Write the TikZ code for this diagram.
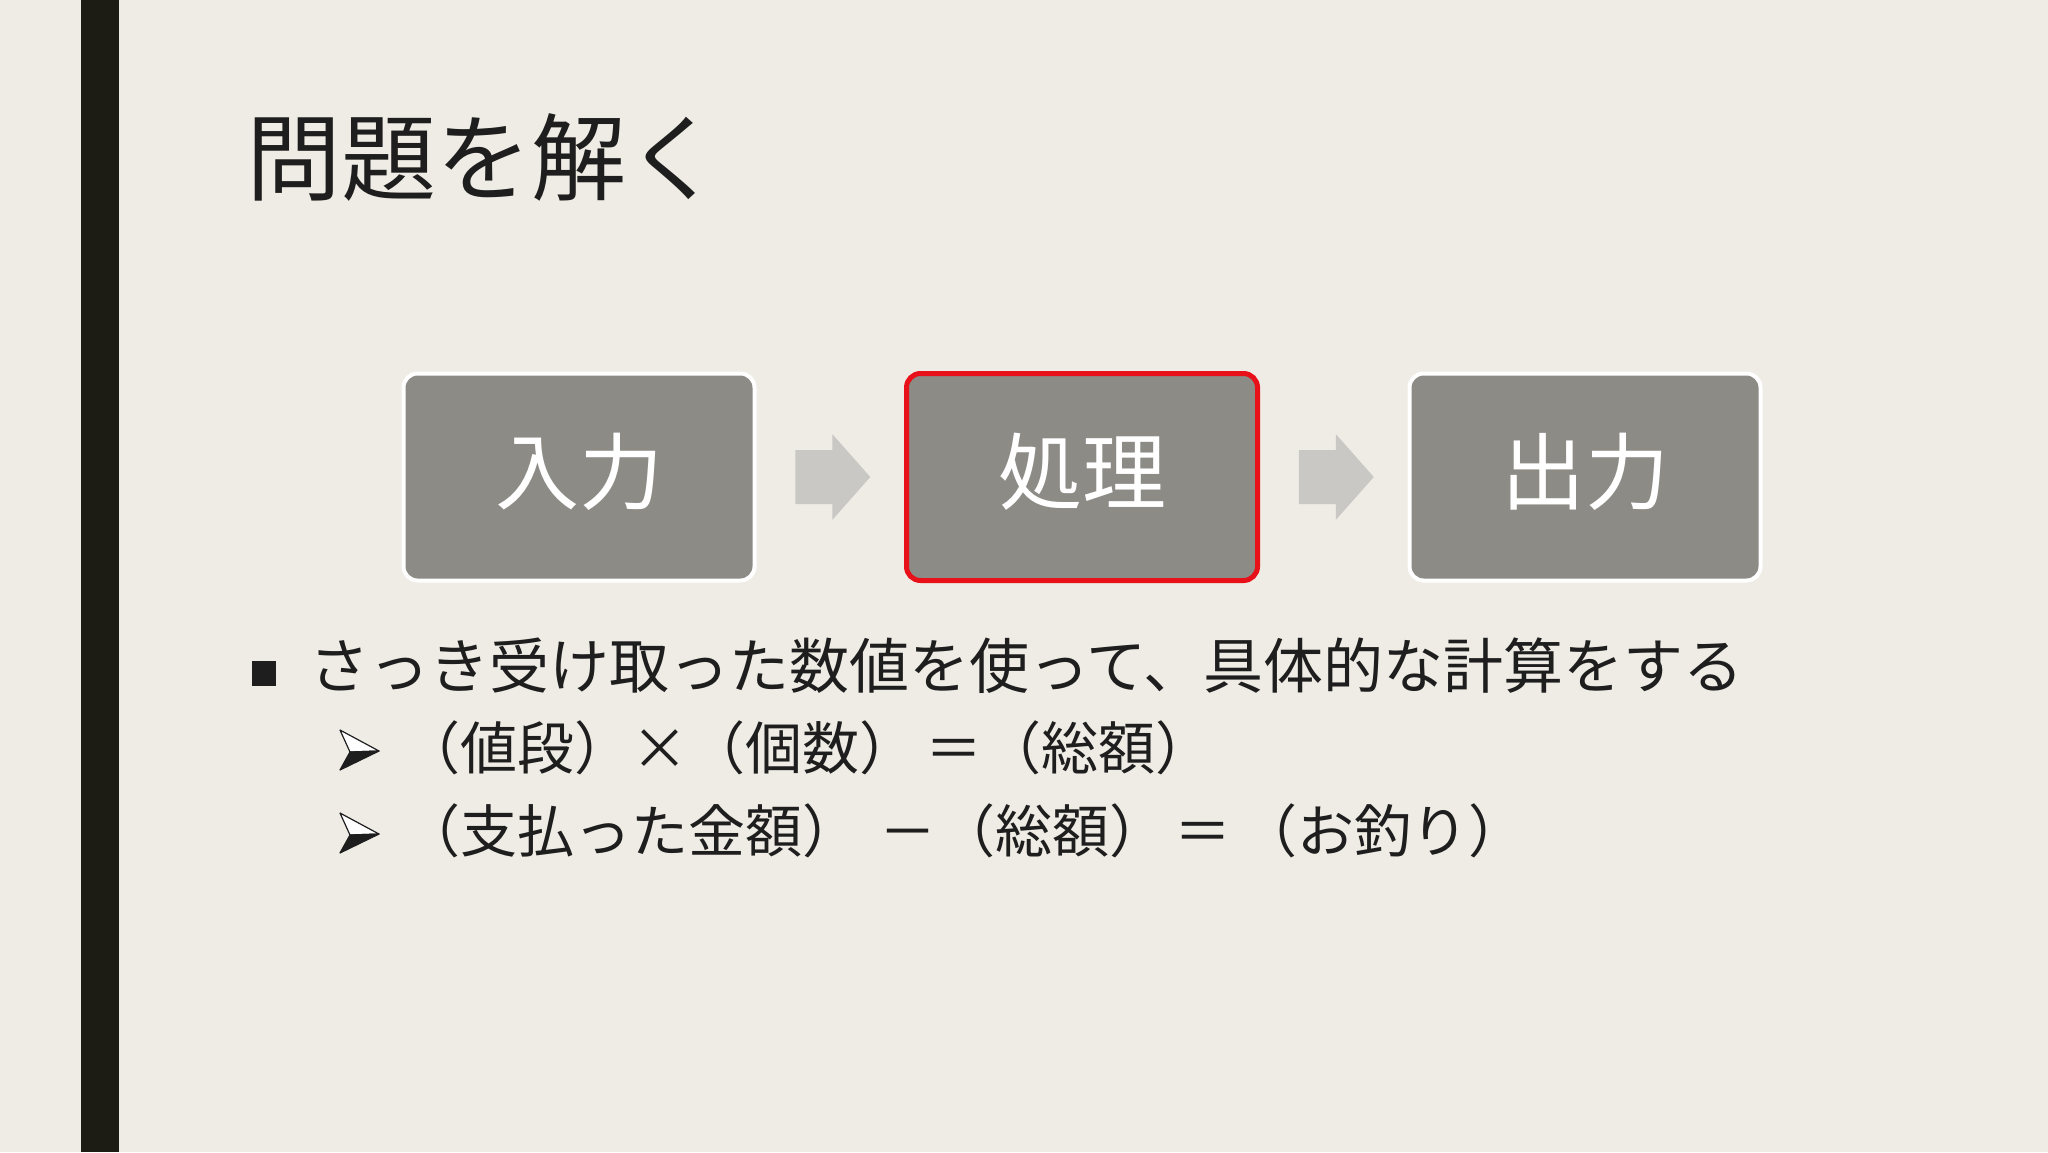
\documentclass[tikz,border=0pt]{standalone}
\usepackage{fontspec}
\setmainfont{Noto Sans CJK JP}
\usetikzlibrary{positioning,calc}
\definecolor{bgcol}{HTML}{EFECE5}
\definecolor{barcol}{HTML}{1C1C14}
\definecolor{boxcol}{HTML}{8C8B86}
\definecolor{redcol}{HTML}{E8111A}
\definecolor{arrcol}{HTML}{C9C8C4}
\definecolor{txtcol}{HTML}{1E1E1E}

\begin{document}
\begin{tikzpicture}[x=1pt, y=-1pt, node distance=147.5pt,
  step box/.style={rounded corners=14pt,draw=white,line width=4pt,fill=boxcol,minimum width=351pt,minimum height=207pt,inner sep=0pt,text=white,font=\fontsize{84}{84}\selectfont},
  hot box/.style={step box,draw=redcol,line width=5pt},
  flow arrow/.style={fill=arrcol,draw=none},
  item/.style={anchor=west,inner sep=0pt,text=txtcol,font=\fontsize{60}{60}\selectfont},
  subitem/.style={anchor=west,inner sep=0pt,text=txtcol,font=\fontsize{57}{57}\selectfont},
  pics/pointer/.style={code={
    \filldraw[fill=white,draw=txtcol,line width=1.2pt,line join=round] (0,-20) -- (39,1) -- (10,2) -- cycle;
    \filldraw[fill=txtcol,draw=txtcol,line width=1.2pt,line join=round] (10,2) -- (39,1) -- (0,20) -- cycle;}}]
\useasboundingbox (0,0) rectangle (2048,1152);
\fill[bgcol] (0,0) rectangle (2048,1152);
\fill[barcol] (81,0) rectangle (119,1152);
% title
\node[anchor=west,inner sep=0pt,text=txtcol,font=\fontsize{95}{95}\selectfont] (title) at (246,157) {問題を解く};
% flow
\node[step box] (in) at (579,477) {\raisebox{18pt}{入力}};
\node[hot box,right=of in] (proc) {\raisebox{18pt}{処理}};
\node[step box,right=of proc] (out) {\raisebox{18pt}{出力}};
\coordinate (m1) at ($(in.east)!.5!(proc.west)$);
\coordinate (m2) at ($(proc.east)!.5!(out.west)$);
\foreach \m in {m1,m2}
  \fill[flow arrow] (\m) ++(-35,-27) -- ++(37,0) -- ++(0,-16) -- ++(38,43) -- ++(-38,43) -- ++(0,-16) -- ++(-37,0) -- cycle;
% bullets
\node[fill=txtcol,minimum width=24pt,minimum height=25pt,inner sep=0pt] (b0) at (264,673) {};
\node[item] (t0) at (309,666) {さっき受け取った数値を使って、具体的な計算をする};
\pic (b1) at (340,750) {pointer};
\node[subitem] (t1) at (403,748) {（値段）×（個数）\hspace{9pt}＝\hspace{2pt}（総額）};
\pic (b2) at (340,833) {pointer};
\node[subitem] (t2) at (403,831) {（支払った金額）\hspace{20pt}－\hspace{2pt}（総額）\hspace{8pt}＝\hspace{9pt}（お釣り）};
\end{tikzpicture}
\end{document}
